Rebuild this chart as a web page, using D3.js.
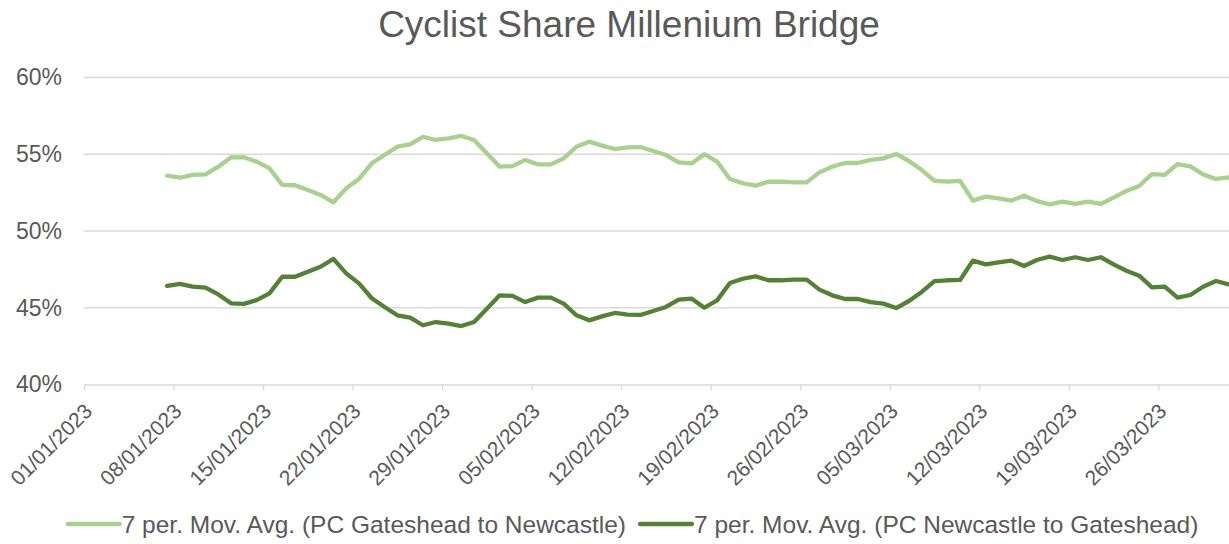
<!DOCTYPE html>
<html>
<head>
<meta charset="utf-8">
<script src="https://cdn.jsdelivr.net/npm/d3@7"></script>
<style>
  html, body { margin: 0; padding: 0; background: #fff; overflow: hidden; }
  svg { display: block; font-family: "Liberation Sans", Arial, sans-serif; }
</style>
</head>
<body>
<svg id="chart" width="1229" height="544"></svg>
<script>
// ---- data ----
const title = "Cyclist Share Millenium Bridge";
const seriesNames = [
  "7 per. Mov. Avg. (PC Gateshead to Newcastle)",
  "7 per. Mov. Avg. (PC Newcastle to Gateshead)"
];
const firstDate = "2023-01-07";
const lastDate = "2023-03-31";
const gatesheadToNewcastle = [
  53.60, 53.47, 53.65, 53.69, 54.19, 54.80, 54.80, 54.52, 54.08, 53.00,
  52.98, 52.67, 52.35, 51.87, 52.78, 53.39, 54.41, 54.95, 55.49, 55.65,
  56.14, 55.93, 56.04, 56.19, 55.93, 55.06, 54.19, 54.23, 54.63, 54.34,
  54.34, 54.73, 55.49, 55.82, 55.56, 55.34, 55.45, 55.47, 55.21, 54.95,
  54.47, 54.40, 55.00, 54.52, 53.39, 53.11, 52.95, 53.21, 53.21, 53.17,
  53.17, 53.82, 54.19, 54.43, 54.43, 54.63, 54.73, 55.02, 54.56, 53.97,
  53.26, 53.21, 53.26, 51.98, 52.24, 52.13, 51.98, 52.30, 51.95, 51.74,
  51.91, 51.76, 51.91, 51.76, 52.17, 52.61, 52.93, 53.71, 53.65, 54.36,
  54.21, 53.69, 53.39, 53.50
];
const newcastleToGateshead = [
  46.42, 46.55, 46.37, 46.31, 45.87, 45.29, 45.25, 45.50, 45.94, 47.02,
  47.02, 47.35, 47.67, 48.18, 47.24, 46.59, 45.62, 45.05, 44.51, 44.35,
  43.86, 44.07, 43.96, 43.81, 44.07, 44.94, 45.81, 45.77, 45.37, 45.66,
  45.66, 45.27, 44.51, 44.18, 44.44, 44.66, 44.55, 44.53, 44.79, 45.05,
  45.53, 45.60, 45.00, 45.48, 46.61, 46.89, 47.05, 46.79, 46.79, 46.83,
  46.83, 46.18, 45.81, 45.57, 45.57, 45.37, 45.27, 44.98, 45.44, 46.03,
  46.74, 46.79, 46.81, 48.07, 47.83, 47.96, 48.07, 47.72, 48.11, 48.33,
  48.11, 48.29, 48.11, 48.29, 47.83, 47.41, 47.09, 46.33, 46.37, 45.66,
  45.83, 46.37, 46.74, 46.52
];
const yTicks = [40, 45, 50, 55, 60];
const xTickLabels = ["01/01/2023","08/01/2023","15/01/2023","22/01/2023","29/01/2023",
  "05/02/2023","12/02/2023","19/02/2023","26/02/2023","05/03/2023","12/03/2023",
  "19/03/2023","26/03/2023"];
const colors = ["#a9d18e", "#548235"];

// ---- setup ----
const parse = d3.timeParse("%Y-%m-%d");
const parseLabel = d3.timeParse("%d/%m/%Y");
const fmt = d3.timeFormat("%d/%m/%Y");
const dates = d3.timeDay.range(parse(firstDate), d3.timeDay.offset(parse(lastDate), 1));
const tickDates = xTickLabels.map(parseLabel);

const svg = d3.select("#chart");
const plotLeft = 84, plotTop = 77.5, plotBottom = 384.5;
const x = d3.scaleTime()
  .domain([parse("2023-01-01"), parse("2023-04-01")])
  .range([plotLeft, plotLeft + 90 * 12.79]);
const y = d3.scaleLinear().domain([40, 60]).range([plotBottom, plotTop]);
const mid = d => d3.timeHour.offset(d, 12);

const textColor = "#595959";
const gridColor = "#d9d9d9";

// title
svg.append("text")
  .attr("x", 629).attr("y", 37)
  .attr("text-anchor", "middle")
  .attr("fill", textColor)
  .style("font-size", "37px")
  .text(title);

// gridlines
svg.append("g").selectAll("line")
  .data(yTicks.filter(t => t !== 40))
  .join("line")
  .attr("x1", plotLeft).attr("x2", 1229)
  .attr("y1", d => y(d)).attr("y2", d => y(d))
  .attr("stroke", gridColor).attr("stroke-width", 1.3);

// y axis labels
const yAxis = d3.axisLeft(y).tickValues(yTicks).tickFormat(d => d + "%").tickSize(0).tickPadding(22);
const gy = svg.append("g").attr("transform", `translate(${plotLeft},0)`).call(yAxis);
gy.select(".domain").remove();
gy.selectAll("text").attr("fill", textColor).style("font-size", "23px")
  .style("font-family", "'Liberation Sans', Arial, sans-serif");

// x axis
const xAxis = d3.axisBottom(x).tickValues(tickDates).tickFormat(fmt).tickSizeInner(6).tickSizeOuter(0);
const gx = svg.append("g").attr("transform", `translate(0,${plotBottom})`).call(xAxis);
gx.select(".domain").attr("stroke", gridColor).attr("stroke-width", 1.5);
gx.selectAll(".tick line").attr("stroke", gridColor).attr("stroke-width", 1.3);
gx.selectAll("text")
  .attr("fill", textColor)
  .style("font-size", "21px")
  .style("font-family", "'Liberation Sans', Arial, sans-serif")
  .attr("x", 0).attr("y", 0).attr("dy", 0)
  .attr("text-anchor", "end")
  .attr("transform", "translate(9,28) rotate(-45)");

// lines
const series = [gatesheadToNewcastle, newcastleToGateshead];
const line = d3.line().x((d, i) => x(mid(dates[i]))).y(d => y(d));
series.forEach((vals, k) => {
  svg.append("path")
    .datum(vals)
    .attr("fill", "none")
    .attr("stroke", colors[k])
    .attr("stroke-width", 4.3)
    .attr("stroke-linejoin", "round")
    .attr("stroke-linecap", "round")
    .attr("d", line);
});

// legend
const legend = svg.append("g");
let cx = 0;
seriesNames.forEach((name, k) => {
  const g = legend.append("g");
  g.append("line").attr("x1", 0).attr("x2", 52).attr("y1", 0).attr("y2", 0)
    .attr("stroke", colors[k]).attr("stroke-width", 4.3).attr("stroke-linecap", "round");
  const t = g.append("text").attr("x", 54).attr("y", 8.7)
    .attr("fill", textColor).style("font-size", "24.5px").text(name);
  const w = 54 + t.node().getComputedTextLength();
  g.attr("transform", `translate(${cx},0)`);
  cx += w + 14;
});
const total = cx - 14;
legend.attr("transform", `translate(${633 - total / 2},524)`);
</script>
</body>
</html>
